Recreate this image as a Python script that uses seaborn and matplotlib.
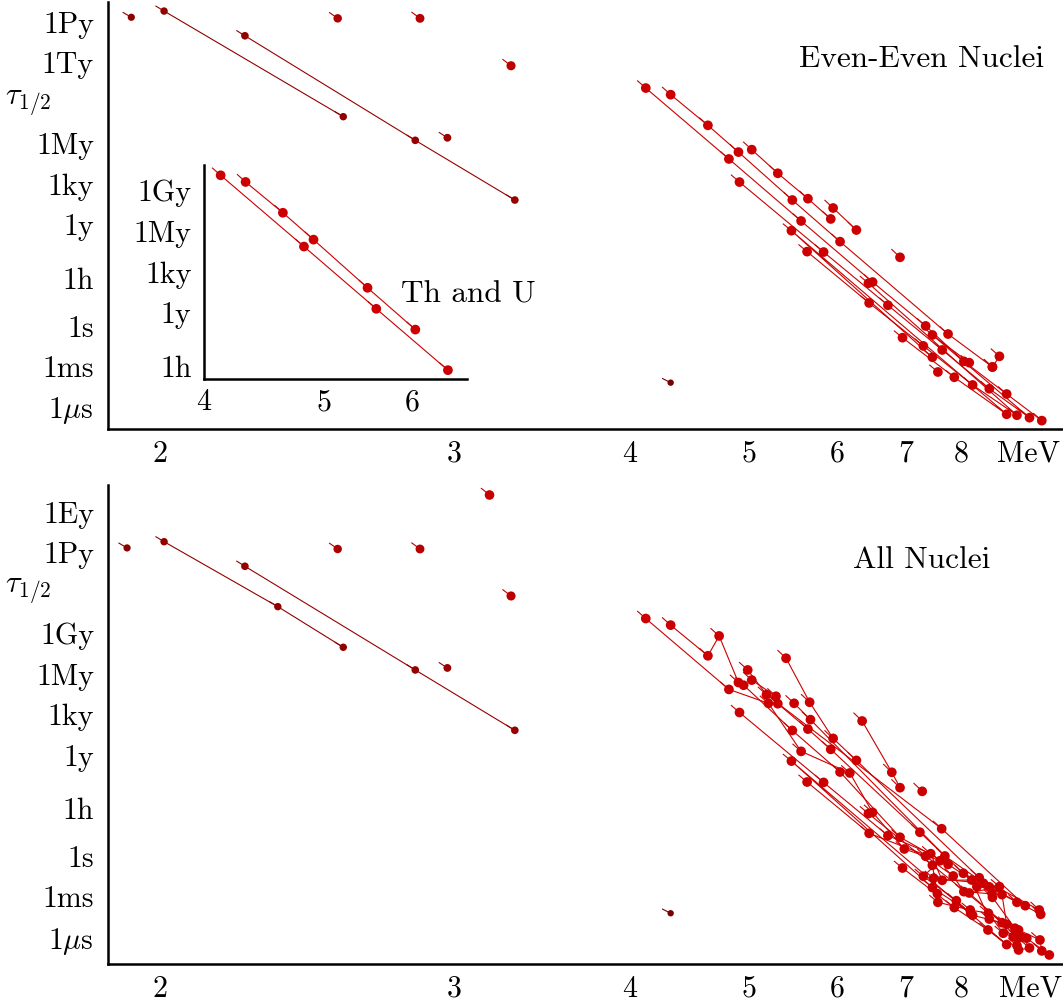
import numpy as np
import pandas as pd
import matplotlib
matplotlib.use("Agg")
import matplotlib.pyplot as plt
import matplotlib.transforms as mtransforms
from matplotlib.collections import LineCollection
import seaborn as sns

# ---------------- data: alpha energy Q [MeV], log10 half-life [s] ----------------
# top panel : even-even nuclei (one chain per element)
ee_nd_q = [1.93];                 ee_nd_t = [22.85]
ee_sm_q = [2.01, 2.55];           ee_sm_t = [23.31, 15.49]
ee_gd_q = [2.23, 2.83, 3.30];     ee_gd_t = [21.48, 13.74, 9.32]
ee_hf_q = [2.53];                 ee_hf_t = [22.77]
ee_os_q = [2.85];                 ee_os_t = [22.77]
ee_dy_q = [2.97];                 ee_dy_t = [13.93]
ee_pt_q = [3.28];                 ee_pt_t = [19.26]
ee_te_q = [4.31];                 ee_te_t = [-4.20]
ee_th_q = [4.12, 4.81, 5.56, 6.49, 7.34, 8.06, 9.00, 9.90]
ee_th_t = [17.61, 12.36, 7.77, 3.25, 0.00, -2.62, -5.04, -7.01]
ee_u_q = [4.31, 4.62, 4.90, 5.46, 6.04, 7.75, 8.67]
ee_u_t = [17.12, 14.85, 12.87, 9.32, 6.24, -0.60, -3.04]
ee_pu_q = [5.03, 5.30, 5.64, 5.92]; ee_pu_t = [13.05, 11.30, 9.42, 7.92]
ee_cm_q = [5.95, 6.26];           ee_cm_t = [8.73, 7.10]
ee_ra_q = [4.91, 5.83, 6.72, 7.64, 8.60, 9.57, 7.46, 8.17]
ee_ra_t = [10.65, 5.47, 1.53, -1.78, -4.65, -6.79, -0.67, -2.72]
ee_rn_q = [5.63, 6.44, 7.30, 8.24, 9.25, 6.43]
ee_rn_t = [5.50, 1.70, -1.48, -4.37, -6.61, 3.16]
ee_po_q = [6.95, 7.87, 9.00, 5.45, 7.46]
ee_po_t = [-0.87, -3.80, -6.54, 7.05, -2.32]
ee_cf_q = [6.91];                 ee_cf_t = [5.08]
ee_x1_q = [8.83, 8.67];           ee_x1_t = [-2.25, -3.04]
ee_x2_q = [7.56];                 ee_x2_t = [-3.41]

# bottom panel : all nuclei
al_nd_q = [1.92];                 al_nd_t = [22.84]
al_sm_q = [2.01, 2.33, 2.55];     al_sm_t = [23.30, 18.49, 15.48]
al_gd_q = [2.23, 2.83, 3.30];     al_gd_t = [21.48, 13.80, 9.33]
al_hf_q = [2.53];                 al_hf_t = [22.76]
al_os_q = [2.85];                 al_os_t = [22.76]
al_dy_q = [2.97];                 al_dy_t = [13.95]
al_pt_q = [3.28];                 al_pt_t = [19.28]
al_bi_q = [3.17];                 al_bi_t = [26.76]
al_te_q = [4.31];                 al_te_t = [-4.22]
al_th_q = [4.12, 4.81, 5.20, 5.56, 6.17, 6.49, 6.98, 7.34, 7.85, 8.06, 8.89, 9.00, 9.85, 9.90]
al_th_t = [17.61, 12.36, 11.33, 7.77, 6.17, 3.25, 0.54, 0.00, -1.46, -2.62, -2.84, -5.04, -6.20, -7.01]
al_u_q = [4.31, 4.62, 4.72, 4.90, 4.95, 5.46, 6.04, 6.91, 7.75, 8.66, 8.67, 9.20]
al_u_t = [17.12, 14.85, 16.32, 12.87, 12.67, 9.32, 6.24, 1.41, -0.60, -2.74, -3.04, -5.33]
al_pu_q = [5.03, 5.28, 5.30, 5.64, 5.92, 7.24, 8.05, 9.25]
al_pu_t = [13.05, 11.85, 11.30, 9.42, 7.92, 1.78, -1.26, -3.41]
al_np_q = [4.99, 5.18, 7.63, 9.46];  al_np_t = [13.80, 11.97, 2.04, -3.66]
al_cm_q = [5.39, 5.66, 5.95, 6.26, 8.38, 9.83]
al_cm_t = [14.67, 11.41, 8.73, 7.10, -1.59, -3.98]
al_am_q = [5.48, 5.67, 7.69, 8.60, 9.87];  al_am_t = [11.33, 10.12, 0.02, -2.27, -4.30]
al_ra_q = [4.91, 5.83, 6.72, 7.43, 7.64, 8.22, 8.60, 9.29, 9.57, 9.29]
al_ra_t = [10.65, 5.47, 1.53, 0.19, -1.78, -1.76, -4.65, -5.46, -6.79, -6.94]
al_rn_q = [5.63, 6.44, 7.60, 7.30, 7.91, 8.24, 8.89, 9.25, 9.37, 6.43]
al_rn_t = [5.50, 1.70, -0.33, -1.48, -3.29, -4.37, -4.92, -6.61, -6.00, 3.16]
al_po_q = [6.95, 7.87, 8.57, 9.00, 5.45, 7.46, 8.20]
al_po_t = [-0.87, -3.80, -5.46, -6.54, 7.05, -2.32, -4.22]
al_at_q = [7.46, 7.55, 7.56, 8.19, 8.58, 8.92, 9.16, 9.50, 10.11]
al_at_t = [-0.67, -2.77, -3.41, -3.98, -4.22, -5.70, -5.96, -6.07, -7.31]
al_fr_q = [7.48, 8.47, 8.33, 8.83, 8.17, 9.26]
al_fr_t = [-1.63, -2.00, -2.25, -2.25, -2.72, -6.00]
al_es_q = [6.34, 6.78, 6.91];     al_es_t = [10.02, 6.22, 5.08]
al_x_q = [7.28];                  al_x_t = [4.81]

# proton numbers of the chains
Z_OF = {"Te": 52, "Nd": 60, "Sm": 62, "Gd": 64, "Dy": 66, "Hf": 72, "Os": 76, "Pt": 78,
        "Bi": 83, "Po": 84, "At": 85, "Rn": 86, "Fr": 87, "Ra": 88, "Th": 90, "U": 92,
        "Np": 93, "Pu": 94, "Am": 95, "Cm": 96, "Cf": 98, "Es": 99, "X1": 92, "X2": 86, "X": 99}

# axis tick values (seconds) and labels
sec_ticks = [1e-6, 1e-3, 1.0, 3600.0, 3.156e7, 3.156e10, 3.156e13, 3.156e16, 3.156e19, 3.156e22, 3.156e25]
sec_labels = [r"1$\mu$s", "1ms", "1s", "1h", "1y", "1ky", "1My", "1Gy", "1Ty", "1Py", "1Ey"]
mev_ticks = [2, 3, 4, 5, 6, 7, 8, 9, 10]
mev_labels = ["2", "3", "4", "5", "6", "7", "8", "", "MeV"]

top_chains = {"Nd": (ee_nd_q, ee_nd_t), "Sm": (ee_sm_q, ee_sm_t), "Gd": (ee_gd_q, ee_gd_t),
              "Hf": (ee_hf_q, ee_hf_t), "Os": (ee_os_q, ee_os_t), "Dy": (ee_dy_q, ee_dy_t),
              "Pt": (ee_pt_q, ee_pt_t), "Te": (ee_te_q, ee_te_t), "Th": (ee_th_q, ee_th_t),
              "U": (ee_u_q, ee_u_t), "Pu": (ee_pu_q, ee_pu_t), "Cm": (ee_cm_q, ee_cm_t),
              "Ra": (ee_ra_q, ee_ra_t), "Rn": (ee_rn_q, ee_rn_t), "Po": (ee_po_q, ee_po_t),
              "Cf": (ee_cf_q, ee_cf_t), "X1": (ee_x1_q, ee_x1_t), "X2": (ee_x2_q, ee_x2_t)}
all_chains = {"Nd": (al_nd_q, al_nd_t), "Sm": (al_sm_q, al_sm_t), "Gd": (al_gd_q, al_gd_t),
              "Hf": (al_hf_q, al_hf_t), "Os": (al_os_q, al_os_t), "Dy": (al_dy_q, al_dy_t),
              "Pt": (al_pt_q, al_pt_t), "Bi": (al_bi_q, al_bi_t), "Te": (al_te_q, al_te_t),
              "Th": (al_th_q, al_th_t), "U": (al_u_q, al_u_t), "Pu": (al_pu_q, al_pu_t),
              "Np": (al_np_q, al_np_t), "Cm": (al_cm_q, al_cm_t), "Am": (al_am_q, al_am_t),
              "Ra": (al_ra_q, al_ra_t), "Rn": (al_rn_q, al_rn_t), "Po": (al_po_q, al_po_t),
              "At": (al_at_q, al_at_t), "Fr": (al_fr_q, al_fr_t), "Es": (al_es_q, al_es_t),
              "X": (al_x_q, al_x_t)}


def build(chains):
    rows = []
    for name, (q, t) in chains.items():
        for i, (qq, tt) in enumerate(zip(q, t)):
            rows.append(dict(chain=name, Z=Z_OF[name], order=i, Q=qq, logT=tt))
    df = pd.DataFrame(rows)
    df["tau"] = 10.0 ** df["logT"]
    return df


def z_color(z):
    f = float(np.clip((z - 52) / 32.0, 0, 1))
    return (0.47 + 0.33 * f, 0.0, 0.0)


def z_size(z):
    f = float(np.clip((z - 52) / 32.0, 0, 1))
    return (4.6 + 2.4 * f) ** 2


def fwd(e):
    e = np.clip(np.asarray(e, float), 1e-6, None)
    return -1.0 / np.sqrt(e)


def inv(u):
    u = np.clip(np.asarray(u, float), None, -1e-6)
    return 1.0 / np.square(u)


# ---------------- style ----------------
sns.set_theme(style="white")
plt.rcParams["font.family"] = ["cmr10", "DejaVu Serif"]
plt.rcParams["mathtext.fontset"] = "cm"
plt.rcParams["axes.unicode_minus"] = False
plt.rcParams["axes.formatter.use_mathtext"] = True
plt.rcParams["text.color"] = "black"
plt.rcParams["xtick.color"] = "black"
plt.rcParams["ytick.color"] = "black"
plt.rcParams["xtick.labelcolor"] = "black"
plt.rcParams["ytick.labelcolor"] = "black"

W, H = 1063, 1007
fig = plt.figure(figsize=(W / 100, H / 100), dpi=100)


def fx(px):
    return px / W


def fy(py):
    return 1 - py / H


def draw(ax, df, lw=0.8):
    pal = {c: z_color(z) for c, z in df.groupby("chain")["Z"].first().items()}
    sizes = {c: z_size(z) for c, z in df.groupby("chain")["Z"].first().items()}
    counts = df.groupby("chain")["Q"].transform("size")
    multi = df[counts > 1]
    if len(multi):
        sns.lineplot(data=multi, x="Q", y="tau", hue="chain", estimator=None, sort=False,
                     palette={c: pal[c] for c in multi["chain"].unique()},
                     legend=False, linewidth=lw, ax=ax, zorder=2)
    # short Geiger-Nuttall direction tails at each point
    delta, gn = 0.0038, 1.64
    s0 = 1.0 / np.sqrt(df["Q"].values) + delta
    q0 = 1.0 / s0 ** 2
    t0 = 10.0 ** (df["logT"].values + gn * df["Z"].values * delta)
    segs = [[(a, b), (c, d)] for a, b, c, d in zip(q0, t0, df["Q"].values, df["tau"].values)]
    lc = LineCollection(segs, colors=[pal[c] for c in df["chain"]], linewidths=lw, zorder=2)
    ax.add_collection(lc)
    sns.scatterplot(data=df, x="Q", y="tau", hue="chain", size="chain", sizes=sizes,
                    palette=pal, legend=False, linewidth=0, edgecolor="none", ax=ax, zorder=3)
    ax.set_xlabel("")
    ax.set_ylabel("")


def style_axes(ax, xlim, ylim, xt, xl, yt, yl, fs=21.5, ypad=10, xpad=8):
    ax.set_xscale("function", functions=(fwd, inv))
    ax.set_yscale("log")
    ax.set_xlim(*xlim)
    ax.set_ylim(*ylim)
    ax.set_xticks(xt)
    ax.set_xticklabels(xl)
    ax.set_yticks(yt)
    ax.set_yticklabels(yl)
    ax.xaxis.set_minor_locator(matplotlib.ticker.NullLocator())
    ax.yaxis.set_minor_locator(matplotlib.ticker.NullLocator())
    for s in ("top", "right"):
        ax.spines[s].set_visible(False)
    for s in ("left", "bottom"):
        ax.spines[s].set_linewidth(1.8)
        ax.spines[s].set_color("black")
    ax.tick_params(axis="both", which="major", direction="in", length=5, width=1.5,
                   labelsize=fs, colors="black")
    ax.tick_params(axis="y", pad=ypad)
    ax.tick_params(axis="x", pad=xpad)
    ax.patch.set_alpha(0)
    ax.grid(False)


df_top = build(top_chains)
df_all = build(all_chains)

xlim_main = (1.876, 10.51)

# ---- top panel ----
ax1 = fig.add_axes([fx(108), fy(429), fx(1063 - 108), (429 - 2) / H])
draw(ax1, df_top)
top_lab = [l if l != "1Gy" else "" for l in sec_labels[:10]]
style_axes(ax1, xlim_main, (10 ** -7.63, 10 ** 23.98), mev_ticks, mev_labels,
           sec_ticks[:10], top_lab)

# ---- bottom panel ----
ax2 = fig.add_axes([fx(108), fy(964), fx(1063 - 108), (964 - 485) / H])
draw(ax2, df_all)
bot_lab = [l if l != "1Ty" else "" for l in sec_labels]
style_axes(ax2, xlim_main, (10 ** -7.98, 10 ** 27.5), mev_ticks, mev_labels,
           sec_ticks, bot_lab)

# shift the "MeV" unit label slightly left
for ax, dx in ((ax1, -17), (ax2, -15)):
    lab = ax.get_xticklabels()[-1]
    lab.set_transform(lab.get_transform() + mtransforms.ScaledTranslation(dx / 100, 0, fig.dpi_scale_trans))

# ---- inset: Th and U ----
ins_mask = df_top["chain"].isin(["Th", "U"]) & (df_top["Q"] <= 6.6) & (df_top["logT"] >= 3.0)
df_ins = df_top[ins_mask].copy()
ax3 = fig.add_axes([fx(204), fy(379), fx(467 - 204), (379 - 165) / H])
draw(ax3, df_ins)
style_axes(ax3, (4.0, 6.777), (10 ** 2.598, 10 ** 18.37), [4, 5, 6], ["4", "5", "6"],
           sec_ticks[3:8], sec_labels[3:8], ypad=9, xpad=7)

# ---- texts ----
fig.text(fx(922), fy(67), "Even-Even Nuclei", ha="center", va="baseline", fontsize=22.5)
fig.text(fx(922), fy(568), "All Nuclei", ha="center", va="baseline", fontsize=22.5)
fig.text(fx(468), fy(303), "Th and U", ha="center", va="baseline", fontsize=22.5)
fig.text(fx(28), fy(105), r"$\tau_{1/2}$", ha="center", va="baseline", fontsize=22)
fig.text(fx(28), fy(593), r"$\tau_{1/2}$", ha="center", va="baseline", fontsize=22)

fig.savefig("out.png", dpi=100)
